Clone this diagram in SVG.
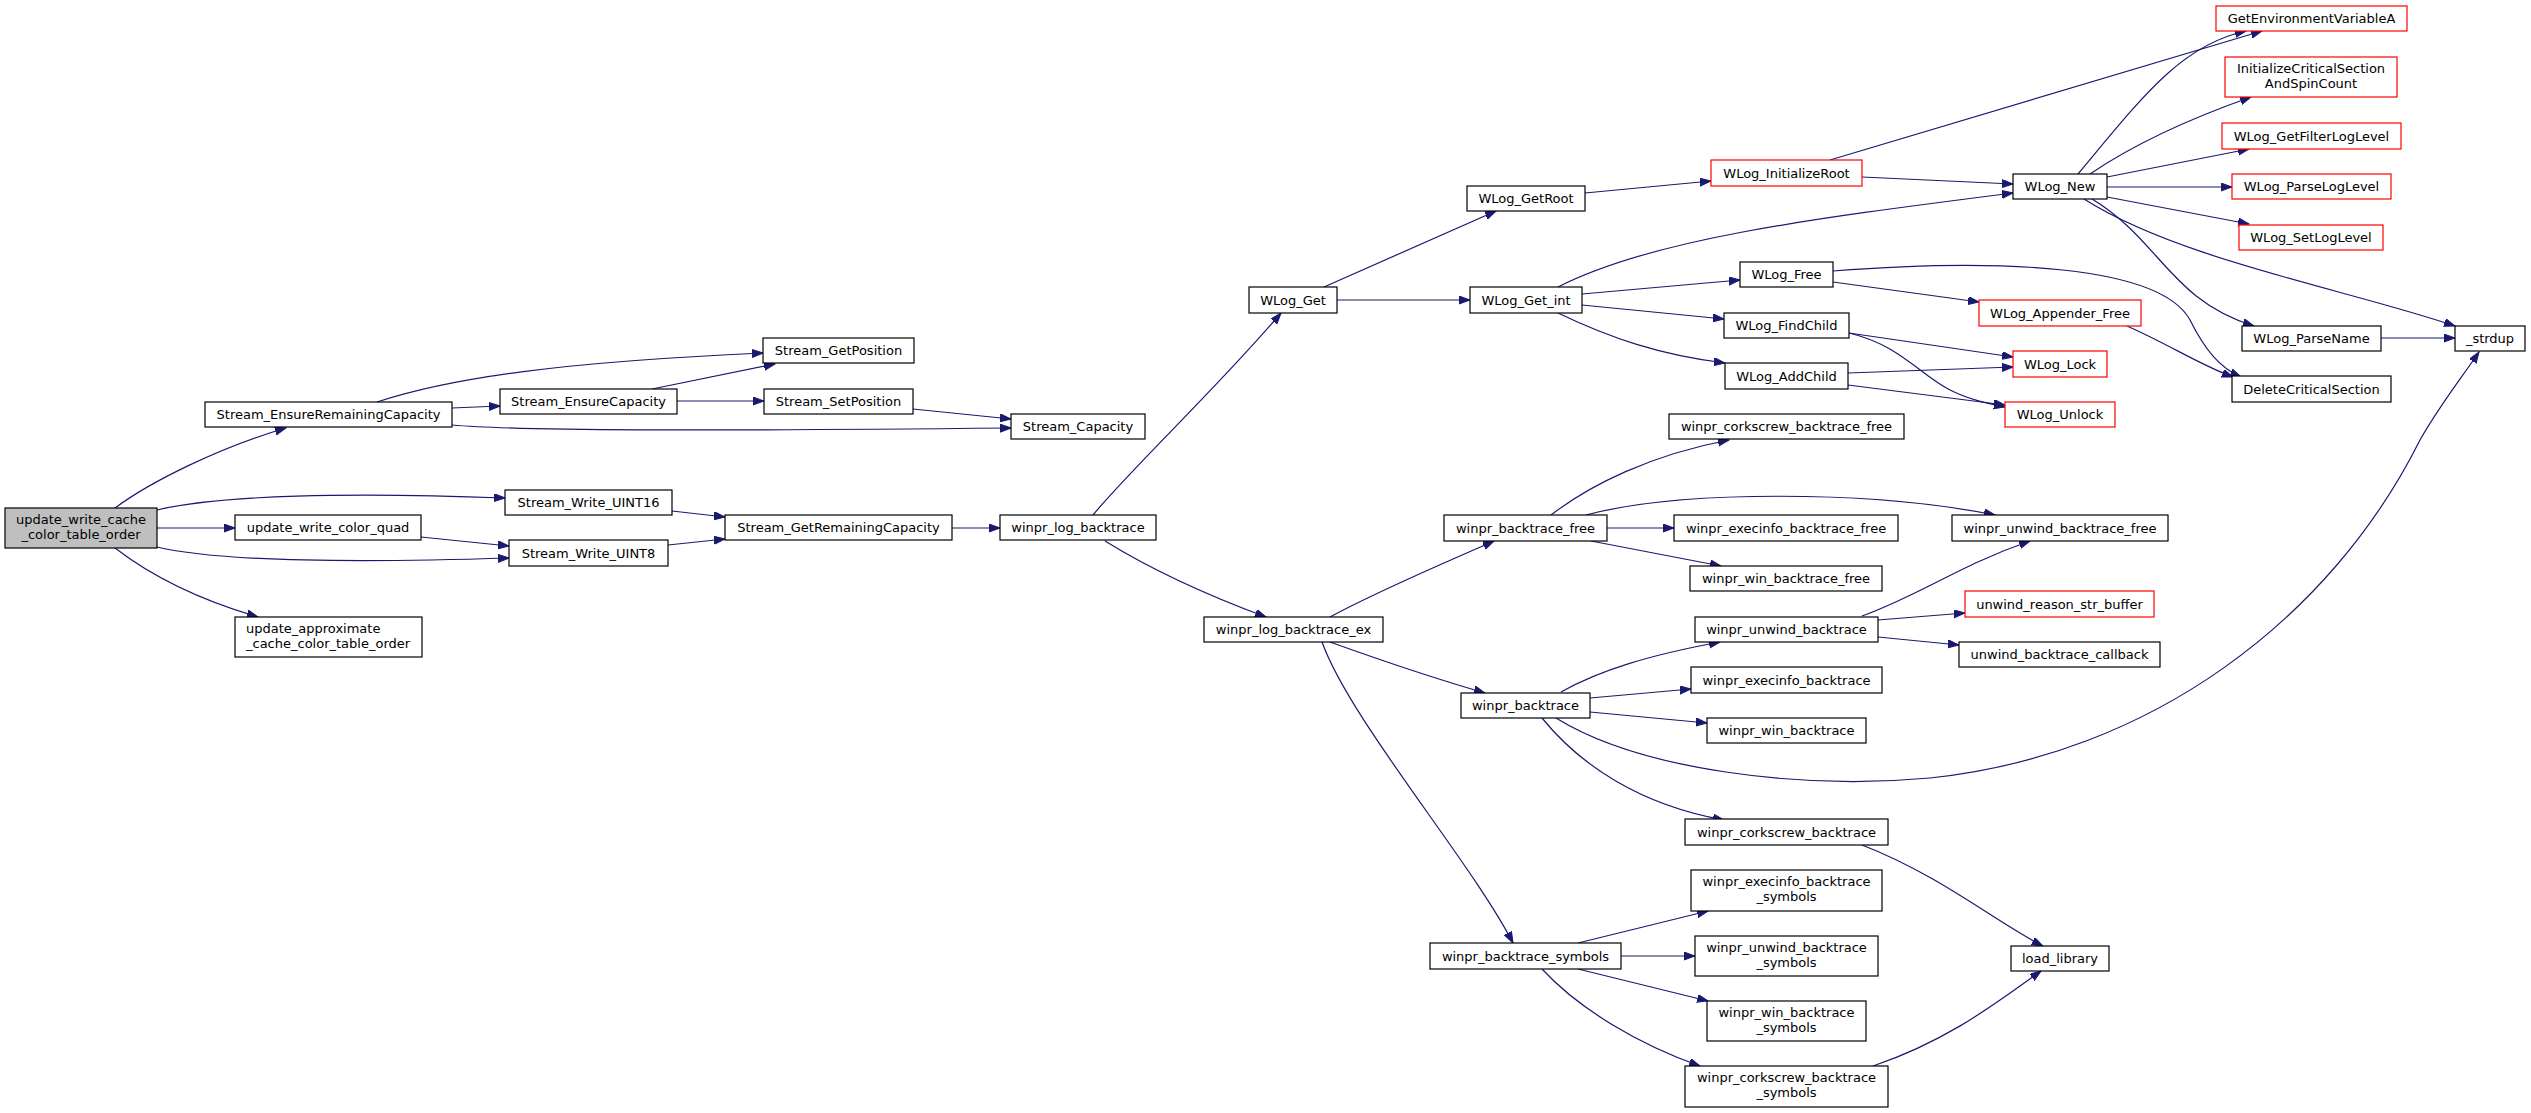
<svg xmlns="http://www.w3.org/2000/svg" width="2531" height="1113" viewBox="0 0 2531 1113">
<style>
.n rect{fill:#fff;stroke:#000;stroke-width:1.2}
.n.r rect{stroke:#f00}
.n.root rect{fill:#bfbfbf}
text{font-family:"DejaVu Sans",sans-serif;font-size:13px;text-anchor:middle;fill:#000}
.e path{fill:none;stroke:#191970;stroke-width:1.2}
</style>
<defs>
<marker id="a" markerWidth="12" markerHeight="9" refX="11" refY="4" orient="auto" markerUnits="userSpaceOnUse"><path d="M0,0 L11,4 L0,8 z" fill="#191970" stroke="#191970" stroke-width="1"/></marker>
</defs>
<rect width="2531" height="1113" fill="#fff"/>
<g id="edges" class="e" marker-end="url(#a)">
<path d="M115,508 C150,482 220,447 286,428" marker-end="url(#a)"/>
<path d="M452,408 L500,406" marker-end="url(#a)"/>
<path d="M377,402 C450,378 560,362 763,353" marker-end="url(#a)"/>
<path d="M652,389 L775,364" marker-end="url(#a)"/>
<path d="M677,401 L764,401" marker-end="url(#a)"/>
<path d="M452,425 C520,431 700,431 1011,428" marker-end="url(#a)"/>
<path d="M913,409 L1011,419" marker-end="url(#a)"/>
<path d="M157,510 C220,495 350,492 505,498" marker-end="url(#a)"/>
<path d="M157,528 L235,528" marker-end="url(#a)"/>
<path d="M157,547 C220,562 350,563 509,558" marker-end="url(#a)"/>
<path d="M421,537 L509,546" marker-end="url(#a)"/>
<path d="M115,548 C150,575 200,600 258,617" marker-end="url(#a)"/>
<path d="M672,511 L725,517" marker-end="url(#a)"/>
<path d="M668,545 L725,539" marker-end="url(#a)"/>
<path d="M952,528 L1000,528" marker-end="url(#a)"/>
<path d="M1093,515 C1130,470 1220,385 1281,313" marker-end="url(#a)"/>
<path d="M1105,541 C1160,575 1220,600 1266,617" marker-end="url(#a)"/>
<path d="M1324,287 L1496,211" marker-end="url(#a)"/>
<path d="M1337,300 L1470,300" marker-end="url(#a)"/>
<path d="M1585,193 L1711,181" marker-end="url(#a)"/>
<path d="M1558,287 C1650,240 1800,220 2013,193" marker-end="url(#a)"/>
<path d="M1582,294 L1740,280" marker-end="url(#a)"/>
<path d="M1582,305 L1724,319" marker-end="url(#a)"/>
<path d="M1558,313 C1610,338 1660,355 1725,363" marker-end="url(#a)"/>
<path d="M1830,160 L2262,31" marker-end="url(#a)"/>
<path d="M1862,177 L2013,184" marker-end="url(#a)"/>
<path d="M2078,174 C2140,100 2180,45 2246,31" marker-end="url(#a)"/>
<path d="M2090,174 C2140,140 2200,115 2251,97" marker-end="url(#a)"/>
<path d="M2107,177 L2249,149" marker-end="url(#a)"/>
<path d="M2107,187 L2232,187" marker-end="url(#a)"/>
<path d="M2107,197 L2249,224" marker-end="url(#a)"/>
<path d="M2092,199 C2160,240 2170,300 2254,326" marker-end="url(#a)"/>
<path d="M2084,199 C2180,260 2350,290 2455,326" marker-end="url(#a)"/>
<path d="M2381,338 L2455,338" marker-end="url(#a)"/>
<path d="M1833,271 C2000,258 2160,265 2190,320 C2205,350 2220,368 2241,377" marker-end="url(#a)"/>
<path d="M1833,282 L1979,302" marker-end="url(#a)"/>
<path d="M2127,326 C2170,345 2200,365 2233,377" marker-end="url(#a)"/>
<path d="M1849,333 L2013,357" marker-end="url(#a)"/>
<path d="M1849,333 C1900,345 1920,375 1950,390 C1970,400 1990,404 2005,407" marker-end="url(#a)"/>
<path d="M1848,373 L2013,367" marker-end="url(#a)"/>
<path d="M1848,385 L2005,405" marker-end="url(#a)"/>
<path d="M1556,718 C1640,770 1800,790 1930,778 C2150,755 2330,620 2420,440 C2440,405 2460,380 2479,352" marker-end="url(#a)"/>
<path d="M1330,617 C1380,590 1440,565 1494,541" marker-end="url(#a)"/>
<path d="M1330,642 C1380,660 1440,680 1485,693" marker-end="url(#a)"/>
<path d="M1322,642 C1350,720 1470,860 1513,943" marker-end="url(#a)"/>
<path d="M1551,515 C1590,485 1650,455 1729,440" marker-end="url(#a)"/>
<path d="M1586,515 C1680,490 1870,490 1995,515" marker-end="url(#a)"/>
<path d="M1607,528 L1674,528" marker-end="url(#a)"/>
<path d="M1591,541 L1721,566" marker-end="url(#a)"/>
<path d="M1862,616 C1920,595 1960,565 2030,541" marker-end="url(#a)"/>
<path d="M1878,620 L1965,613" marker-end="url(#a)"/>
<path d="M1878,637 L1959,645" marker-end="url(#a)"/>
<path d="M1561,692 C1600,670 1650,655 1720,642" marker-end="url(#a)"/>
<path d="M1590,698 L1691,689" marker-end="url(#a)"/>
<path d="M1590,712 L1707,723" marker-end="url(#a)"/>
<path d="M1542,718 C1580,765 1640,805 1724,820" marker-end="url(#a)"/>
<path d="M1862,845 C1940,875 2000,925 2043,946" marker-end="url(#a)"/>
<path d="M1578,943 L1708,911" marker-end="url(#a)"/>
<path d="M1621,956 L1695,956" marker-end="url(#a)"/>
<path d="M1578,969 L1708,1001" marker-end="url(#a)"/>
<path d="M1542,969 C1580,1010 1640,1045 1700,1066" marker-end="url(#a)"/>
<path d="M1873,1066 C1950,1040 2000,1000 2041,971" marker-end="url(#a)"/>
</g>
<g id="n_root" class="n root"><rect x="5" y="508" width="152" height="40"/><text x="81" y="524">update_write_cache</text><text x="81" y="539">_color_table_order</text></g>
<g id="n_serc" class="n"><rect x="205" y="402" width="247" height="25"/><text x="328.5" y="419">Stream_EnsureRemainingCapacity</text></g>
<g id="n_sec" class="n"><rect x="500" y="389" width="177" height="25"/><text x="588.5" y="406">Stream_EnsureCapacity</text></g>
<g id="n_sgp" class="n"><rect x="763" y="338" width="151" height="25"/><text x="838.5" y="355">Stream_GetPosition</text></g>
<g id="n_ssp" class="n"><rect x="764" y="389" width="149" height="25"/><text x="838.5" y="406">Stream_SetPosition</text></g>
<g id="n_sc" class="n"><rect x="1011" y="414" width="134" height="25"/><text x="1078" y="431">Stream_Capacity</text></g>
<g id="n_sw16" class="n"><rect x="505" y="490" width="167" height="25"/><text x="588.5" y="507">Stream_Write_UINT16</text></g>
<g id="n_uwcq" class="n"><rect x="235" y="515" width="186" height="25"/><text x="328" y="532">update_write_color_quad</text></g>
<g id="n_sw8" class="n"><rect x="509" y="540" width="159" height="26"/><text x="588.5" y="558">Stream_Write_UINT8</text></g>
<g id="n_uac" class="n"><rect x="235" y="617" width="187" height="40"/><text x="246" y="633" style="text-anchor:start">update_approximate</text><text x="246" y="648" style="text-anchor:start">_cache_color_table_order</text></g>
<g id="n_sgrc" class="n"><rect x="725" y="515" width="227" height="25"/><text x="838.5" y="532">Stream_GetRemainingCapacity</text></g>
<g id="n_wlb" class="n"><rect x="1000" y="515" width="156" height="25"/><text x="1078" y="532">winpr_log_backtrace</text></g>
<g id="n_wlbe" class="n"><rect x="1204" y="617" width="179" height="25"/><text x="1293.5" y="634">winpr_log_backtrace_ex</text></g>
<g id="n_wlget" class="n"><rect x="1249" y="287" width="88" height="26"/><text x="1293" y="305">WLog_Get</text></g>
<g id="n_wlgr" class="n"><rect x="1467" y="186" width="118" height="25"/><text x="1526" y="203">WLog_GetRoot</text></g>
<g id="n_wlgi" class="n"><rect x="1470" y="287" width="112" height="26"/><text x="1526" y="305">WLog_Get_int</text></g>
<g id="n_wlir" class="n r"><rect x="1711" y="160" width="151" height="26"/><text x="1786.5" y="178">WLog_InitializeRoot</text></g>
<g id="n_wlnew" class="n"><rect x="2013" y="174" width="94" height="25"/><text x="2060" y="191">WLog_New</text></g>
<g id="n_geva" class="n r"><rect x="2216" y="6" width="191" height="25"/><text x="2311.5" y="23">GetEnvironmentVariableA</text></g>
<g id="n_ics" class="n r"><rect x="2225" y="57" width="172" height="40"/><text x="2311" y="73">InitializeCriticalSection</text><text x="2311" y="88">AndSpinCount</text></g>
<g id="n_wgfl" class="n r"><rect x="2222" y="123" width="179" height="26"/><text x="2311.5" y="141">WLog_GetFilterLogLevel</text></g>
<g id="n_wpll" class="n r"><rect x="2232" y="174" width="159" height="25"/><text x="2311.5" y="191">WLog_ParseLogLevel</text></g>
<g id="n_wsll" class="n r"><rect x="2239" y="225" width="144" height="25"/><text x="2311" y="242">WLog_SetLogLevel</text></g>
<g id="n_wfree" class="n"><rect x="1740" y="262" width="93" height="25"/><text x="1786.5" y="279">WLog_Free</text></g>
<g id="n_waf" class="n r"><rect x="1979" y="300" width="162" height="26"/><text x="2060" y="318">WLog_Appender_Free</text></g>
<g id="n_wfc" class="n"><rect x="1724" y="313" width="125" height="25"/><text x="1786.5" y="330">WLog_FindChild</text></g>
<g id="n_wac" class="n"><rect x="1725" y="363" width="123" height="26"/><text x="1786.5" y="381">WLog_AddChild</text></g>
<g id="n_wlock" class="n r"><rect x="2013" y="351" width="94" height="26"/><text x="2060" y="369">WLog_Lock</text></g>
<g id="n_wunlock" class="n r"><rect x="2005" y="402" width="110" height="25"/><text x="2060" y="419">WLog_Unlock</text></g>
<g id="n_wpn" class="n"><rect x="2242" y="326" width="139" height="25"/><text x="2311.5" y="343">WLog_ParseName</text></g>
<g id="n_strdup" class="n"><rect x="2455" y="326" width="70" height="25"/><text x="2490" y="343">_strdup</text></g>
<g id="n_dcs" class="n"><rect x="2232" y="376" width="159" height="26"/><text x="2311.5" y="394">DeleteCriticalSection</text></g>
<g id="n_wcbf" class="n"><rect x="1669" y="414" width="235" height="25"/><text x="1786.5" y="431">winpr_corkscrew_backtrace_free</text></g>
<g id="n_wbf" class="n"><rect x="1444" y="515" width="163" height="26"/><text x="1525.5" y="533">winpr_backtrace_free</text></g>
<g id="n_webf" class="n"><rect x="1674" y="515" width="224" height="26"/><text x="1786" y="533">winpr_execinfo_backtrace_free</text></g>
<g id="n_wubf" class="n"><rect x="1952" y="515" width="216" height="26"/><text x="2060" y="533">winpr_unwind_backtrace_free</text></g>
<g id="n_wwbf" class="n"><rect x="1690" y="566" width="192" height="25"/><text x="1786" y="583">winpr_win_backtrace_free</text></g>
<g id="n_ursb" class="n r"><rect x="1965" y="591" width="189" height="26"/><text x="2059.5" y="609">unwind_reason_str_buffer</text></g>
<g id="n_wub" class="n"><rect x="1695" y="617" width="183" height="25"/><text x="1786.5" y="634">winpr_unwind_backtrace</text></g>
<g id="n_ubc" class="n"><rect x="1959" y="642" width="201" height="25"/><text x="2059.5" y="659">unwind_backtrace_callback</text></g>
<g id="n_web" class="n"><rect x="1691" y="667" width="191" height="26"/><text x="1786.5" y="685">winpr_execinfo_backtrace</text></g>
<g id="n_wb" class="n"><rect x="1461" y="693" width="129" height="25"/><text x="1525.5" y="710">winpr_backtrace</text></g>
<g id="n_wwb" class="n"><rect x="1707" y="718" width="159" height="25"/><text x="1786.5" y="735">winpr_win_backtrace</text></g>
<g id="n_wcb" class="n"><rect x="1685" y="819" width="203" height="26"/><text x="1786.5" y="837">winpr_corkscrew_backtrace</text></g>
<g id="n_webs" class="n"><rect x="1691" y="870" width="191" height="41"/><text x="1786.5" y="886">winpr_execinfo_backtrace</text><text x="1786.5" y="901">_symbols</text></g>
<g id="n_wubs" class="n"><rect x="1695" y="936" width="183" height="40"/><text x="1786.5" y="952">winpr_unwind_backtrace</text><text x="1786.5" y="967">_symbols</text></g>
<g id="n_wwbs" class="n"><rect x="1707" y="1001" width="159" height="40"/><text x="1786.5" y="1017">winpr_win_backtrace</text><text x="1786.5" y="1032">_symbols</text></g>
<g id="n_wcbs" class="n"><rect x="1685" y="1066" width="203" height="41"/><text x="1786.5" y="1082">winpr_corkscrew_backtrace</text><text x="1786.5" y="1097">_symbols</text></g>
<g id="n_wbs" class="n"><rect x="1430" y="943" width="191" height="26"/><text x="1525.5" y="961">winpr_backtrace_symbols</text></g>
<g id="n_ll" class="n"><rect x="2011" y="946" width="98" height="25"/><text x="2060" y="963">load_library</text></g>
</svg>
